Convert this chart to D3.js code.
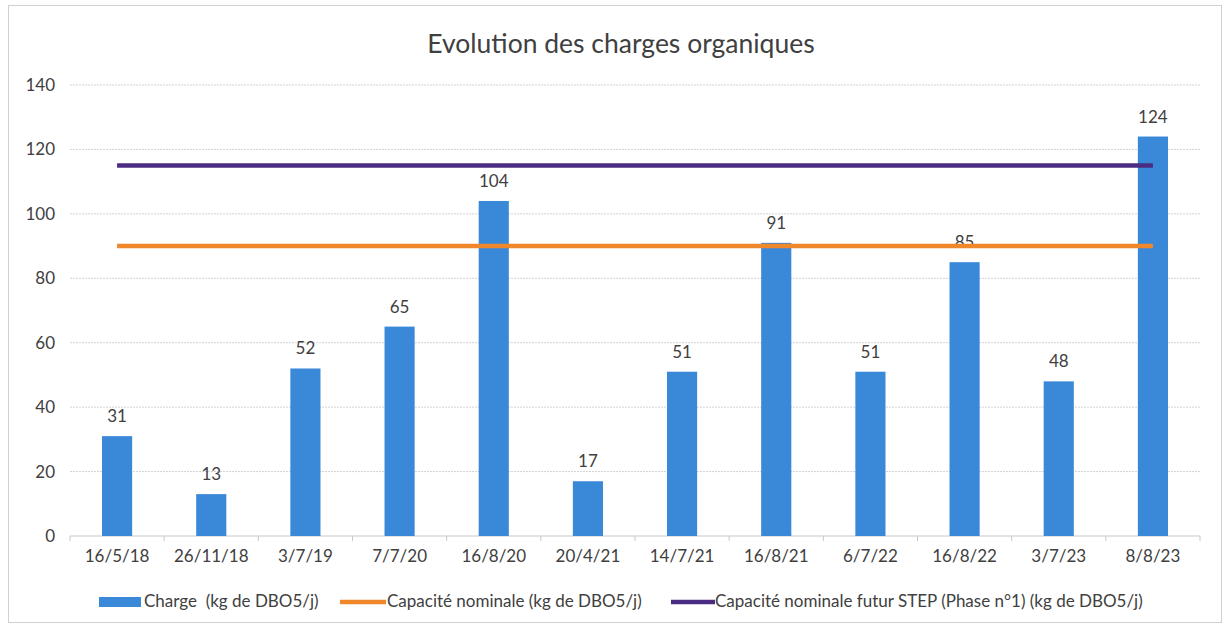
<!DOCTYPE html>
<html><head><meta charset="utf-8">
<script src="https://cdn.jsdelivr.net/npm/d3@7"></script>
<style>body{margin:0;background:#fff}svg{display:block}text{white-space:pre}</style>
</head><body>
<script>
const categories = ["16/5/18","26/11/18","3/7/19","7/7/20","16/8/20","20/4/21","14/7/21","16/8/21","6/7/22","16/8/22","3/7/23","8/8/23"];
const charge = [31,13,52,65,104,17,51,91,51,85,48,124];
const capaciteNominale = [90,90,90,90,90,90,90,90,90,90,90,90];
const capaciteFutur = [115,115,115,115,115,115,115,115,115,115,115,115];
const yTicks = [0,20,40,60,80,100,120,140];
const seriesNames = ["Charge  (kg de DBO5/j)","Capacité nominale (kg de DBO5/j)","Capacité nominale futur STEP (Phase n°1) (kg de DBO5/j)"];
const title = "Evolution des charges organiques";

const W=1225,H=628;
const svg=d3.select("body").append("svg").attr("width",W).attr("height",H);
const font="Lato, 'Open Sans', sans-serif";
svg.append("rect").attr("x",8.5).attr("y",5.5).attr("width",1213).attr("height",617).attr("fill","#fff").attr("stroke","#d0d0d0");

const x=d3.scaleBand().domain(categories).range([70,1200]).paddingInner(0.68).paddingOuter(0.34);
const y=d3.scaleLinear().domain([0,140]).range([536,85]);

svg.append("g").selectAll("line").data(yTicks.filter(d=>d>0)).join("line")
 .attr("x1",70).attr("x2",1200).attr("y1",d=>y(d)).attr("y2",d=>y(d))
 .attr("stroke","#d2d2d2").attr("stroke-dasharray","2,1");

const ya=svg.append("g").attr("transform","translate(70,0)").call(d3.axisLeft(y).tickValues(yTicks).tickSize(0).tickPadding(15));
ya.select(".domain").remove();
ya.selectAll("text").attr("font-family",font).attr("font-size",17).attr("fill","#404040");

svg.append("line").attr("x1",70).attr("x2",1200).attr("y1",y(0)).attr("y2",y(0)).attr("stroke","#c8c8c8");
const bounds=categories.map(c=>x(c)-x.step()*x.paddingInner()/2).concat([1200]);
svg.append("g").selectAll("line").data(bounds).join("line")
 .attr("x1",d=>d).attr("x2",d=>d).attr("y1",y(0)).attr("y2",y(0)+5).attr("stroke","#c8c8c8");

const xa=svg.append("g").attr("transform",`translate(0,${y(0)})`).call(d3.axisBottom(x).tickSize(0).tickPadding(14));
xa.select(".domain").remove();
xa.selectAll("text").attr("font-family",font).attr("font-size",17).attr("fill","#404040");

svg.append("g").selectAll("rect").data(charge).join("rect")
 .attr("x",(d,i)=>x(categories[i])).attr("width",x.bandwidth())
 .attr("y",d=>y(d)).attr("height",d=>y(0)-y(d)).attr("fill","#3a88d8");

svg.append("g").selectAll("text").data(charge).join("text")
 .attr("x",(d,i)=>x(categories[i])+x.bandwidth()/2).attr("y",d=>y(d)-14)
 .attr("text-anchor","middle").attr("font-family",font).attr("font-size",17).attr("fill","#404040").text(d=>d);

const line=d3.line().x((d,i)=>x(categories[i])+x.bandwidth()/2).y(d=>y(d));
svg.append("path").datum(capaciteNominale).attr("d",line).attr("fill","none").attr("stroke","#f0872a").attr("stroke-width",4.5);
svg.append("path").datum(capaciteFutur).attr("d",line).attr("fill","none").attr("stroke","#4a2c82").attr("stroke-width",4.5);

svg.append("text").attr("x",621).attr("y",53).attr("text-anchor","middle").attr("font-family",font).attr("font-size",26.5).attr("fill","#404040").text(title);

const lg=svg.append("g").attr("font-family",font).attr("font-size",17).attr("fill","#404040");
lg.append("rect").attr("x",99).attr("y",597).attr("width",42).attr("height",10).attr("fill","#3a88d8");
lg.append("text").attr("x",144).attr("y",607).text(seriesNames[0]);
lg.append("line").attr("x1",340).attr("x2",386).attr("y1",602).attr("y2",602).attr("stroke","#f0872a").attr("stroke-width",4.5);
lg.append("text").attr("x",387).attr("y",607).text(seriesNames[1]);
lg.append("line").attr("x1",671).attr("x2",715).attr("y1",602).attr("y2",602).attr("stroke","#4a2c82").attr("stroke-width",4.5);
lg.append("text").attr("x",715).attr("y",607).text(seriesNames[2]);
</script>
</body></html>
